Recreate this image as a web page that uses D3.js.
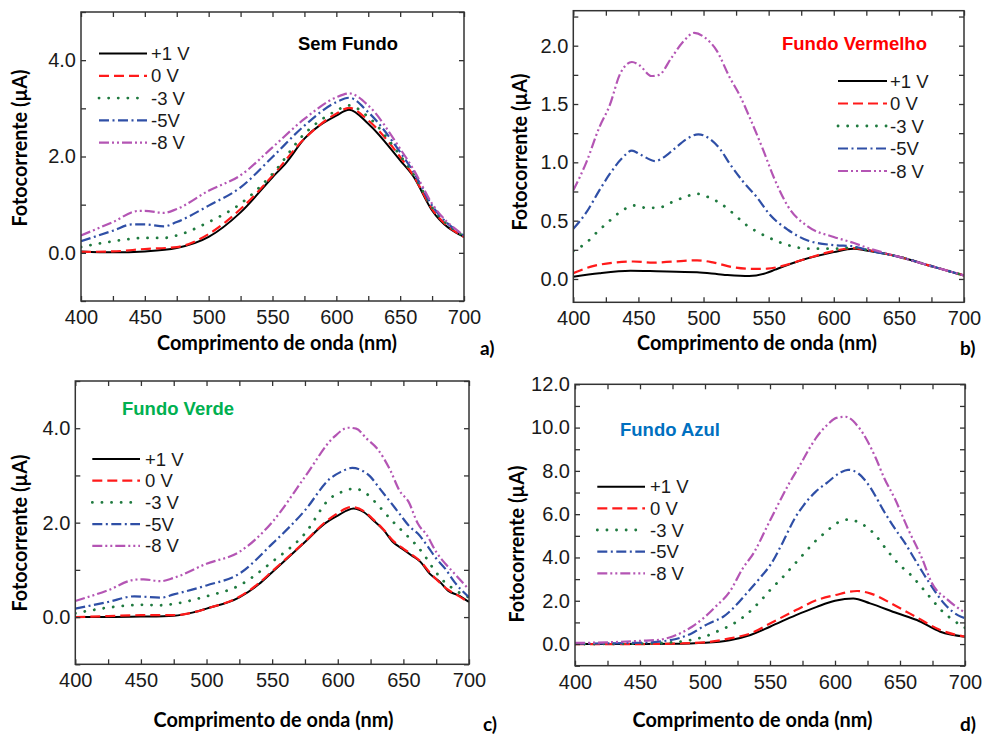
<!DOCTYPE html>
<html>
<head>
<meta charset="utf-8">
<script src="https://cdn.jsdelivr.net/npm/d3@7"></script>
<style>
  body { margin: 0; background: #fff; }
  svg { display: block; }
</style>
</head>
<body>
<svg id="fig" width="983" height="737"></svg>
<script>
// ---- Shared axis values -------------------------------------------------
const wavelengthTicks = [400, 425, 450, 475, 500, 525, 550, 575, 600, 625, 650, 675, 700];
const wavelengthLabels = [400, 450, 500, 550, 600, 650, 700];
const biasLabels = ["+1 V", "0 V", "-3 V", "-5V", "-8 V"];

// ---- a) Sem Fundo : [comprimento de onda (nm), fotocorrente (µA)] --------
const semFundoP1 = [[400,0.03],[425,0.01],[450,0.03],[475,0.10],[500,0.33],[525,0.84],[550,1.57],[561,1.88],[575,2.37],[600,2.85],[610,2.97],[625,2.68],[650,1.92],[660,1.60],[675,0.88],[700,0.33]];
const semFundo0  = [[400,0.02],[425,0.03],[450,0.08],[475,0.12],[500,0.39],[525,0.91],[550,1.60],[575,2.37],[600,2.89],[610,3.01],[625,2.75],[650,1.99],[660,1.62],[675,0.91],[700,0.33]];
const semFundoM3 = [[400,0.12],[425,0.24],[450,0.31],[465,0.31],[475,0.36],[500,0.64],[525,1.02],[550,1.64],[575,2.47],[600,2.95],[610,3.06],[625,2.82],[650,2.02],[660,1.65],[675,0.95],[700,0.34]];
const semFundoM5 = [[400,0.24],[425,0.46],[440,0.59],[450,0.59],[465,0.55],[475,0.64],[500,0.98],[525,1.36],[550,1.99],[575,2.64],[600,3.13],[610,3.22],[625,2.92],[650,2.09],[660,1.70],[675,0.98],[700,0.36]];
const semFundoM8 = [[400,0.36],[425,0.64],[445,0.87],[450,0.87],[465,0.83],[475,0.91],[500,1.29],[525,1.61],[550,2.19],[575,2.78],[600,3.23],[610,3.31],[625,3.06],[650,2.16],[660,1.75],[675,1.02],[700,0.36]];
const semFundoTicks = [-1, 0, 1, 2, 3, 4, 5];
const semFundoLabels = [0, 2, 4];

// ---- b) Fundo Vermelho ---------------------------------------------------
const vermelhoP1 = [[400,0.02],[420,0.05],[444,0.07],[464,0.066],[495,0.057],[515,0.037],[535,0.025],[548,0.05],[555,0.08],[575,0.16],[600,0.23],[615,0.26],[625,0.245],[650,0.19],[675,0.11],[700,0.03]];
const vermelho0  = [[400,0.05],[415,0.11],[431,0.14],[446,0.15],[461,0.14],[477,0.15],[495,0.16],[508,0.14],[523,0.10],[538,0.086],[549,0.088],[560,0.11],[575,0.16],[600,0.24],[615,0.265],[625,0.25],[650,0.19],[675,0.11],[700,0.03]];
const vermelhoM3 = [[400,0.24],[410,0.31],[419,0.41],[428,0.50],[438,0.59],[447,0.63],[456,0.61],[465,0.61],[476,0.66],[485,0.70],[495,0.73],[504,0.70],[514,0.64],[523,0.56],[532,0.47],[542,0.40],[551,0.35],[565,0.29],[580,0.26],[600,0.26],[615,0.27],[625,0.25],[650,0.19],[675,0.11],[700,0.03]];
const vermelhoM5 = [[400,0.43],[410,0.57],[420,0.76],[428,0.90],[437,1.03],[445,1.10],[451,1.07],[463,1.01],[469,1.04],[477,1.11],[487,1.20],[496,1.24],[505,1.20],[513,1.11],[520,0.99],[530,0.84],[541,0.70],[551,0.55],[565,0.42],[580,0.33],[600,0.29],[615,0.28],[625,0.25],[650,0.19],[675,0.11],[700,0.03]];
const vermelhoM8 = [[400,0.76],[410,1.00],[420,1.30],[428,1.49],[436,1.76],[445,1.86],[451,1.83],[460,1.74],[466,1.75],[475,1.89],[484,2.03],[493,2.11],[501,2.07],[510,1.96],[520,1.73],[528,1.57],[536,1.37],[546,1.10],[554,0.87],[565,0.62],[580,0.45],[600,0.36],[615,0.31],[625,0.27],[650,0.19],[675,0.11],[700,0.03]];
const vermelhoTicks = [-0.25, 0, 0.25, 0.5, 0.75, 1, 1.25, 1.5, 1.75, 2, 2.25];
const vermelhoLabels = [0, 0.5, 1, 1.5, 2];

// ---- c) Fundo Verde ------------------------------------------------------
const verdeP1 = [[400,0.00],[425,0.00],[450,0.01],[475,0.03],[490,0.10],[500,0.18],[525,0.42],[540,0.70],[550,0.95],[575,1.59],[590,1.98],[600,2.15],[612,2.30],[620,2.22],[627,2.05],[635,1.84],[642,1.59],[649,1.45],[656,1.31],[663,1.17],[670,0.92],[678,0.74],[684,0.56],[692,0.46],[700,0.32]];
const verde0  = [[400,0.00],[425,0.02],[450,0.04],[475,0.04],[490,0.10],[500,0.18],[525,0.43],[540,0.72],[550,0.97],[575,1.60],[590,2.00],[600,2.20],[610,2.33],[620,2.24],[627,2.07],[635,1.85],[642,1.62],[649,1.47],[656,1.33],[663,1.18],[670,0.95],[678,0.72],[684,0.58],[692,0.45],[700,0.30]];
const verdeM3 = [[400,0.08],[425,0.20],[450,0.26],[465,0.25],[475,0.28],[500,0.44],[525,0.67],[550,1.17],[575,1.77],[594,2.51],[603,2.65],[613,2.72],[622,2.61],[632,2.33],[641,2.05],[650,1.80],[659,1.55],[666,1.31],[673,1.02],[679,0.81],[688,0.60],[700,0.42]];
const verdeM5 = [[400,0.18],[425,0.32],[445,0.44],[465,0.41],[475,0.48],[500,0.67],[525,0.92],[550,1.55],[575,2.26],[594,2.93],[602,3.07],[611,3.16],[618,3.11],[625,2.97],[632,2.72],[640,2.44],[647,2.19],[655,1.91],[661,1.77],[668,1.52],[675,1.24],[682,1.02],[689,0.74],[700,0.42]];
const verdeM8 = [[400,0.34],[425,0.57],[445,0.79],[452,0.80],[465,0.76],[475,0.83],[500,1.13],[525,1.38],[550,2.01],[575,2.97],[597,3.81],[608,4.01],[614,3.99],[622,3.78],[630,3.57],[640,3.11],[647,2.68],[654,2.44],[661,1.98],[668,1.73],[675,1.38],[682,1.13],[688,0.95],[700,0.58]];
const verdeTicks = [-1, 0, 1, 2, 3, 4, 5];
const verdeLabels = [0, 2, 4];

// ---- d) Fundo Azul -------------------------------------------------------
const azulP1 = [[400,0.00],[450,0.00],[475,0.01],[500,0.06],[519,0.18],[535,0.42],[550,0.80],[570,1.34],[586,1.72],[600,2.00],[614,2.11],[627,1.88],[648,1.42],[663,1.11],[681,0.57],[700,0.34]];
const azul0  = [[400,0.00],[450,0.00],[475,0.02],[500,0.08],[519,0.26],[535,0.49],[550,0.95],[570,1.57],[586,2.03],[600,2.26],[617,2.45],[627,2.34],[648,1.72],[663,1.23],[681,0.65],[700,0.34]];
const azulM3 = [[400,0.00],[450,0.02],[475,0.08],[490,0.20],[500,0.35],[510,0.60],[523,0.98],[533,1.42],[542,1.95],[550,2.49],[560,3.10],[567,3.57],[575,4.10],[584,4.70],[593,5.18],[601,5.57],[610,5.75],[620,5.57],[630,5.10],[641,4.26],[649,3.70],[659,3.15],[667,2.60],[674,2.10],[682,1.55],[691,1.10],[700,0.75]];
const azulM5 = [[400,0.02],[450,0.06],[475,0.20],[490,0.50],[500,0.86],[506,1.03],[514,1.26],[524,1.80],[532,2.34],[542,3.03],[551,3.72],[560,4.72],[569,5.80],[576,6.42],[585,7.03],[594,7.46],[604,7.92],[610,8.05],[618,7.88],[626,7.34],[638,6.10],[646,5.34],[654,4.65],[661,3.95],[672,2.88],[685,1.80],[697,1.26],[700,1.20]];
const azulM8 = [[400,0.05],[425,0.08],[450,0.15],[465,0.20],[475,0.35],[490,0.80],[500,1.26],[508,1.72],[519,2.42],[529,3.49],[538,4.26],[547,5.34],[556,6.42],[564,7.34],[573,8.26],[581,9.11],[586,9.57],[595,10.18],[601,10.45],[608,10.50],[618,10.03],[631,8.64],[638,7.65],[646,6.72],[656,5.34],[667,3.95],[674,2.88],[687,2.03],[700,1.45]];
const azulTicks = [-1, 0, 1, 2, 3, 4, 5, 6, 7, 8, 9, 10, 11, 12];
const azulLabels = [0, 2, 4, 6, 8, 10, 12];

// ---- Line styles, one per bias voltage ------------------------------------
const lineStyles = [
  { color: "#000000", dash: null,               width: 2.0, cap: "butt"  },
  { color: "#ff1a1a", dash: "10,5",             width: 2.2, cap: "butt"  },
  { color: "#1f7a3f", dash: "0.1,9.5",          width: 2.8, cap: "round" },
  { color: "#2f4fa6", dash: "10,3.5,2,3.5",     width: 2.2, cap: "butt"  },
  { color: "#b455b4", dash: "10,3,2,3,2,3",     width: 2.2, cap: "butt"  }
];

// ---- Panel layout ---------------------------------------------------------
const panels = [
  {
    series: [semFundoP1, semFundo0, semFundoM3, semFundoM5, semFundoM8],
    frame: { left: 81, right: 464, top: 12, bottom: 301 },
    yDomain: [-1, 5], yTicks: semFundoTicks, yLabels: semFundoLabels,
    title: { text: "Sem Fundo", color: "#000000", x: 298, y: 50, len: 100 },
    legend: { x1: 99, x2: 147, tx: 151, y0: 53.5, dy: 22.3 },
    xTitle: { cx: 277, y: 350 }, yTitle: { cx: 20, cy: 148 },
    tag: { text: "a)", x: 480, y: 355 }
  },
  {
    series: [vermelhoP1, vermelho0, vermelhoM3, vermelhoM5, vermelhoM8],
    frame: { left: 573.3, right: 964, top: 10.7, bottom: 302.3 },
    yDomain: [-0.2, 2.3], yTicks: vermelhoTicks, yLabels: vermelhoLabels,
    title: { text: "Fundo Vermelho", color: "#ff0000", x: 782, y: 50, len: 145 },
    legend: { x1: 838, x2: 887, tx: 890, y0: 81, dy: 22.5 },
    xTitle: { cx: 757, y: 350 }, yTitle: { cx: 520, cy: 152 },
    tag: { text: "b)", x: 960, y: 355 }
  },
  {
    series: [verdeP1, verde0, verdeM3, verdeM5, verdeM8],
    frame: { left: 75.3, right: 469, top: 381, bottom: 664.3 },
    yDomain: [-1, 5], yTicks: verdeTicks, yLabels: verdeLabels,
    title: { text: "Fundo Verde", color: "#00b050", x: 122, y: 415, len: 112 },
    legend: { x1: 92.3, x2: 140, tx: 145, y0: 459, dy: 21.7 },
    xTitle: { cx: 273.5, y: 727 }, yTitle: { cx: 20, cy: 533 },
    tag: { text: "c)", x: 483, y: 731 }
  },
  {
    series: [azulP1, azul0, azulM3, azulM5, azulM8],
    frame: { left: 575, right: 965, top: 384.3, bottom: 665.7 },
    yDomain: [-1, 12], yTicks: azulTicks, yLabels: azulLabels,
    title: { text: "Fundo Azul", color: "#0070c0", x: 620, y: 436, len: 100 },
    legend: { x1: 597.3, x2: 645, tx: 650, y0: 486.7, dy: 21.65 },
    xTitle: { cx: 752.5, y: 727 }, yTitle: { cx: 517, cy: 544 },
    tag: { text: "d)", x: 960, y: 731 }
  }
];

const svg = d3.select("#fig");
const tickFont = "'Liberation Sans', Arial, sans-serif";
const titleFont = "Lato, 'Open Sans', sans-serif";
const fmt = d3.format(".1f");

function styleLine(sel, s) {
  sel.attr("fill", "none")
    .attr("stroke", s.color)
    .attr("stroke-width", s.width)
    .attr("stroke-linecap", s.cap)
    .attr("stroke-linejoin", "round");
  if (s.dash) sel.attr("stroke-dasharray", s.dash);
}

panels.forEach((p, pi) => {
  const f = p.frame;
  const x = d3.scaleLinear().domain([400, 700]).range([f.left, f.right]);
  const y = d3.scaleLinear().domain(p.yDomain).range([f.bottom, f.top]);
  const g = svg.append("g").attr("class", "panel");

  const clipId = "clip" + pi;
  g.append("clipPath").attr("id", clipId)
    .append("rect").attr("x", f.left).attr("y", f.top)
    .attr("width", f.right - f.left).attr("height", f.bottom - f.top);

  // Curves
  const line = d3.line().x(d => x(d[0])).y(d => y(d[1])).curve(d3.curveMonotoneX);
  const curves = g.append("g").attr("clip-path", `url(#${clipId})`);
  p.series.forEach((data, i) => {
    curves.append("path").datum(data).attr("d", line).call(styleLine, lineStyles[i]);
  });

  // Axes with inward ticks on all four sides
  const xLabelFmt = v => wavelengthLabels.includes(v) ? String(v) : "";
  const yLabelFmt = v => p.yLabels.some(l => Math.abs(l - v) < 1e-9) ? fmt(v) : "";
  const yTickVals = p.yTicks.filter(v => v >= p.yDomain[0] - 1e-9 && v <= p.yDomain[1] + 1e-9);

  const axB = g.append("g").attr("transform", `translate(0,${f.bottom})`)
    .call(d3.axisBottom(x).tickValues(wavelengthTicks).tickFormat(xLabelFmt).tickSize(-5).tickPadding(9));
  const axT = g.append("g").attr("transform", `translate(0,${f.top})`)
    .call(d3.axisTop(x).tickValues(wavelengthTicks).tickFormat("").tickSize(-5));
  const axL = g.append("g").attr("transform", `translate(${f.left},0)`)
    .call(d3.axisLeft(y).tickValues(yTickVals).tickFormat(yLabelFmt).tickSize(-5).tickPadding(5));
  const axR = g.append("g").attr("transform", `translate(${f.right},0)`)
    .call(d3.axisRight(y).tickValues(yTickVals).tickFormat("").tickSize(-5));

  [axB, axT, axL, axR].forEach(a => {
    a.select(".domain").remove();
    a.selectAll(".tick line").attr("stroke", "#333").attr("stroke-width", 1.3);
    a.selectAll(".tick text").attr("font-family", tickFont).attr("font-size", 20).attr("fill", "#1a1a1a");
  });

  // Frame
  g.append("rect").attr("x", f.left).attr("y", f.top)
    .attr("width", f.right - f.left).attr("height", f.bottom - f.top)
    .attr("fill", "none").attr("stroke", "#333").attr("stroke-width", 1.5);

  // Panel title
  g.append("text").attr("x", p.title.x).attr("y", p.title.y)
    .attr("font-family", "'Liberation Sans', Arial, sans-serif").attr("font-weight", "bold")
    .attr("font-size", 17.5).attr("fill", p.title.color)
    .attr("textLength", p.title.len).attr("lengthAdjust", "spacingAndGlyphs")
    .text(p.title.text);

  // Legend
  const lg = p.legend;
  biasLabels.forEach((lab, i) => {
    const yy = lg.y0 + i * lg.dy;
    g.append("line").attr("x1", lg.x1).attr("x2", lg.x2).attr("y1", yy).attr("y2", yy)
      .call(styleLine, lineStyles[i]);
    g.append("text").attr("x", lg.tx).attr("y", yy).attr("dy", "0.36em")
      .attr("font-family", tickFont).attr("font-size", 18.5).attr("fill", "#1a1a1a")
      .text(lab);
  });

  // Axis titles
  g.append("text").attr("x", p.xTitle.cx).attr("y", p.xTitle.y)
    .attr("text-anchor", "middle").attr("font-family", titleFont).attr("font-weight", "bold")
    .attr("font-size", 20).attr("fill", "#000")
    .attr("textLength", 240).attr("lengthAdjust", "spacingAndGlyphs")
    .text("Comprimento de onda (nm)");
  g.append("text")
    .attr("transform", `translate(${p.yTitle.cx + 7},${p.yTitle.cy}) rotate(-90)`)
    .attr("text-anchor", "middle").attr("font-family", titleFont).attr("font-weight", "bold")
    .attr("font-size", 20).attr("fill", "#000")
    .attr("textLength", 157).attr("lengthAdjust", "spacingAndGlyphs")
    .text("Fotocorrente (µA)");

  // Panel tag
  g.append("text").attr("x", p.tag.x).attr("y", p.tag.y)
    .attr("font-family", titleFont).attr("font-weight", "bold")
    .attr("font-size", 19).attr("fill", "#000")
    .text(p.tag.text);
});
</script>
</body>
</html>
